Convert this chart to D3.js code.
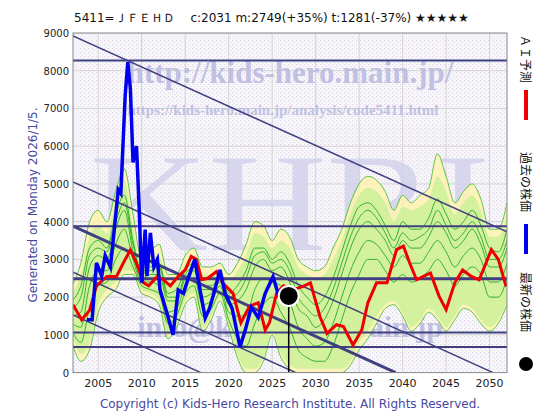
<!DOCTYPE html><html><head><meta charset="utf-8">
<script src="https://cdn.jsdelivr.net/npm/d3@7"></script>
<style>body{margin:0;background:#fff}</style></head><body>
<svg id="c" width="560" height="420" style="font-family:'DejaVu Sans',sans-serif"></svg>
<script>
const title="5411=ＪＦＥＨＤ　 c:2031  m:2749(+35%)  t:1281(-37%)  ★★★★★";
const yTicks=[0,1000,2000,3000,4000,5000,6000,7000,8000,9000];
const xTicks=[2005,2010,2015,2020,2025,2030,2035,2040,2045,2050];
const hLines=[8270,3880,2490,1060,680];
const hThick=[false,false,true,false,false];
const diagLines=[[2002.1,8920,2052,3730],[2002.1,5050,2050.4,0],[2002.1,3880,2039.2,0],[2002.1,2660,2027.7,0],[2002.1,1530,2016.8,0]];
const diagWidth=[1.5,1.5,3,1.5,1.5];
const blueYears=[2003.7,2004.3,2004.8,2005.4,2005.8,2006.4,2006.7,2007.3,2007.6,2008.1,2008.4,2008.7,2009.0,2009.4,2009.7,2010.0,2010.4,2010.6,2011.0,2011.4,2011.8,2012.1,2012.9,2013.6,2014.2,2014.8,2015.3,2016.1,2016.7,2017.3,2017.8,2018.4,2019.0,2019.6,2020.4,2021.3,2021.9,2022.6,2023.4,2024.2,2025.1,2025.8,2026.6];
const blueVals=[1400,1400,2910,2560,3100,2800,3450,4850,4750,7340,8230,7520,5570,6000,4400,2380,3790,2560,3700,2800,3000,2200,1580,1000,2190,2100,2460,3000,2200,1450,1700,2190,2720,2100,1700,680,1120,1730,1460,2100,2540,2000,1930];
const redYears=[2002.1,2003.1,2004.0,2004.8,2006.0,2007.1,2008.1,2008.7,2009.4,2010.2,2010.8,2011.8,2012.5,2013.3,2014.2,2015.0,2015.7,2016.3,2016.9,2017.6,2018.6,2019.3,2020.5,2021.4,2022.4,2023.4,2024.2,2024.7,2025.5,2026.3,2027.4,2028.5,2029.4,2030.5,2031.3,2032.4,2033.2,2034.3,2035.3,2036.0,2037.0,2038.2,2039.3,2040.1,2040.8,2041.6,2042.4,2043.2,2044.2,2045.0,2046.0,2046.9,2047.9,2048.8,2049.6,2050.2,2051.0,2051.9];
const redVals=[1800,1400,1650,2300,2550,2550,3000,3250,2900,2380,2300,2550,2460,2300,2550,2720,3080,3000,2460,2500,2680,2380,2100,1320,1760,1850,1130,1330,2100,2300,2200,2280,2380,1480,1040,1270,1220,730,1130,1850,2380,2380,3260,3350,2910,2460,2550,2640,2020,1670,2380,2720,2550,2460,2910,3260,3000,2280];
const latestYear=2026.9, latestVal=2031;
const bandYears=d3.range(2002,2053);
const yelUp=[2300,2900,4000,4300,4000,4800,5400,4200,3000,3200,3400,2600,2600,3100,3300,2800,2800,2900,2600,2900,3400,4000,3900,3500,3800,3600,3000,2800,2700,2800,3300,3800,4500,5000,5200,5100,4800,4300,4700,4500,4700,4900,5800,5200,4500,4800,5000,4600,3800,3800,4500];
const yelLo=[800,300,600,1600,2000,2200,2600,2600,2100,2000,1800,900,1200,1800,2000,1100,1400,1900,1200,400,0,0,300,1000,400,100,0,0,0,0,0,0,200,600,900,1300,1700,1800,1500,1100,1300,1600,1400,1100,1400,1700,1600,1300,1100,1300,1800];
const grnUp=[2100,2600,3600,3900,3700,4500,5100,3900,2800,3000,3100,2400,2400,2900,3100,2600,2600,2700,2400,2700,3100,3700,3600,3300,3500,3300,2800,2600,2500,2600,3000,3500,4200,4700,4900,4800,4500,4000,4400,4300,4400,4600,5200,4800,4200,4500,4700,4300,3600,3600,4200];
const grnLo=[1000,500,800,1800,2200,2400,2700,2700,2200,2100,1900,1000,1300,1900,2100,1200,1500,2000,1300,500,100,100,400,1100,500,200,100,100,100,100,100,100,300,800,1100,1500,1800,1900,1600,1200,1400,1700,1500,1200,1500,1800,1700,1400,1200,1400,1900];
const gLines=[
[1900,2300,3300,3500,3300,4200,4700,3500,2600,2800,2900,2100,2200,2700,2900,2300,2300,2500,2100,2300,2700,3300,3300,3000,3200,2900,2300,2000,1800,2000,2500,3200,3900,4400,4500,4300,3900,3500,4000,3800,3800,4100,4600,4200,3800,4000,4300,3900,3300,3200,3800],
[1500,1600,2800,3100,3000,3800,4300,3200,2500,2600,2600,1900,1900,2500,2700,2000,2100,2400,1800,1900,2200,2800,3000,2700,2800,2400,1700,1500,1200,1400,1900,2600,3300,3800,4000,3800,3500,3100,3500,3300,3300,3600,4000,3700,3300,3500,3800,3400,2800,2800,3300],
[1300,1200,2300,2700,2700,3400,3800,3000,2400,2400,2300,1600,1700,2300,2500,1800,1900,2300,1600,1500,1500,2200,2500,2400,2300,1900,1200,900,700,800,1300,2000,2700,3200,3500,3400,3100,2800,3100,2900,2900,3200,3500,3200,2800,3100,3300,3000,2400,2400,2900],
[1100,800,1700,2300,2400,3000,3300,2800,2300,2200,2100,1300,1500,2100,2300,1500,1700,2100,1400,900,700,1300,1800,2000,1600,1200,600,400,300,300,700,1400,2100,2600,3000,3000,2700,2400,2600,2400,2500,2700,3000,2700,2300,2600,2800,2600,2000,2000,2500],
[1700,2000,3100,3300,3200,4000,4500,3400,2700,2700,2800,2000,2000,2600,2800,2200,2200,2500,2000,2100,2500,3100,3200,2900,3000,2700,2000,1700,1500,1700,2200,2900,3600,4100,4300,4100,3700,3300,3700,3500,3600,3800,4300,3900,3500,3700,4000,3600,3000,3000,3500]];

const svg=d3.select("#c");
const L=73,R=507,T=33,B=372.6;
const x=d3.scaleLinear().domain([2002.1,2052]).range([L,R]);
const y=d3.scaleLinear().domain([0,9000]).range([B,T]);
const defs=svg.append("defs");
const pat=defs.append("pattern").attr("id","dots").attr("width",4).attr("height",4).attr("patternUnits","userSpaceOnUse");
pat.append("rect").attr("width",4).attr("height",4).attr("fill","#f8f6f9");
pat.append("rect").attr("x",0).attr("y",0).attr("width",1).attr("height",1).attr("fill","#e4d0e4");
pat.append("rect").attr("x",2).attr("y",2).attr("width",1).attr("height",1).attr("fill","#d0dcea");
defs.append("clipPath").attr("id","clip").append("rect").attr("x",L).attr("y",T).attr("width",R-L).attr("height",B-T);
svg.append("rect").attr("x",L).attr("y",T).attr("width",R-L).attr("height",B-T).attr("fill","url(#dots)");
const g=svg.append("g").attr("clip-path","url(#clip)");
g.selectAll(".vg").data(xTicks).join("line").attr("x1",d=>x(d)).attr("x2",d=>x(d)).attr("y1",T).attr("y2",B).attr("stroke","#d4d4d4");
g.selectAll(".hg").data(yTicks).join("line").attr("y1",d=>y(d)).attr("y2",d=>y(d)).attr("x1",L).attr("x2",R).attr("stroke","#d4d4d4");
const wm="#b8b8e0", serif="'Liberation Serif','DejaVu Serif',serif";
g.append("text").attr("x",290).attr("y",83).attr("text-anchor","middle").style("font-family",serif).attr("font-weight","bold").attr("font-size",31).attr("fill",wm).attr("opacity",0.85).text("http://kids-hero.main.jp/");
g.append("text").attr("x",283).attr("y",115).attr("text-anchor","middle").style("font-family",serif).attr("font-weight","bold").attr("font-size",15).attr("fill",wm).attr("opacity",0.85).text("https://kids-hero.main.jp/analysis/code5411.html");
g.append("text").attr("x",290).attr("y",250).attr("text-anchor","middle").style("font-family",serif).attr("font-size",140).attr("textLength",400).attr("lengthAdjust","spacingAndGlyphs").attr("fill","#d0d0ea").attr("opacity",0.8).text("KHRI");
g.append("text").attr("x",290).attr("y",337).attr("text-anchor","middle").style("font-family",serif).attr("font-weight","bold").attr("font-size",30).attr("fill",wm).attr("opacity",0.85).text("info@kids-hero.main.jp");
const area=(u,l)=>d3.area().x((d,i)=>x(bandYears[i])).y0((d,i)=>y(l[i])).y1((d,i)=>y(u[i])).curve(d3.curveMonotoneX);
g.append("path").datum(yelUp).attr("d",area(yelUp,yelLo)).attr("fill","#fff3b0").attr("opacity",0.85);
g.append("path").datum(grnUp).attr("d",area(grnUp,grnLo)).attr("fill","#b8f08a").attr("opacity",0.6);
const ln=d3.line().x((d,i)=>x(bandYears[i])).y(d=>y(d)).curve(d3.curveMonotoneX);
g.append("path").attr("d",ln(yelUp)).attr("fill","none").attr("stroke","#33bb22").attr("stroke-width",0.8);
g.append("path").attr("d",ln(yelLo)).attr("fill","none").attr("stroke","#33bb22").attr("stroke-width",0.8);
gLines.forEach(a=>g.append("path").attr("d",ln(a)).attr("fill","none").attr("stroke","#22aa22").attr("stroke-width",0.9));
hLines.forEach((v,i)=>g.append("line").attr("x1",L).attr("x2",R).attr("y1",y(v)).attr("y2",y(v)).attr("stroke","#404080").attr("stroke-width",hThick[i]?3:2));
diagLines.forEach((d,i)=>g.append("line").attr("x1",x(d[0])).attr("y1",y(d[1])).attr("x2",x(d[2])).attr("y2",y(d[3])).attr("stroke","#404080").attr("stroke-width",diagWidth[i]));
const pl=(xs)=>d3.line().x((d,i)=>x(xs[i])).y(d=>y(d));
g.append("path").attr("d",pl(redYears)(redVals)).attr("fill","none").attr("stroke","#ee0000").attr("stroke-width",3);
g.append("path").attr("d",pl(blueYears)(blueVals)).attr("fill","none").attr("stroke","#0000ee").attr("stroke-width",3.5);
g.append("line").attr("x1",x(latestYear)).attr("x2",x(latestYear)).attr("y1",y(latestVal)).attr("y2",B).attr("stroke","#000").attr("stroke-width",1.5);
g.append("circle").attr("cx",x(latestYear)).attr("cy",y(latestVal)).attr("r",10).attr("fill","#000").attr("stroke","#fff").attr("stroke-width",2);
svg.append("rect").attr("x",L).attr("y",T).attr("width",R-L).attr("height",B-T).attr("fill","none").attr("stroke","#888");
svg.selectAll(".yt").data(yTicks).join("text").attr("x",L-4).attr("y",d=>y(d)+4).attr("text-anchor","end").attr("font-size",10).attr("fill","#222").text(d=>d);
svg.selectAll(".xt").data(xTicks).join("text").attr("x",d=>x(d)).attr("y",B+14).attr("text-anchor","middle").attr("font-size",11).attr("fill","#222").text(d=>d);
svg.append("text").attr("x",74).attr("y",22).attr("font-size",12).attr("fill","#111").text(title);
svg.append("text").attr("transform","translate(37,205) rotate(-90)").attr("text-anchor","middle").attr("font-size",12).attr("fill","#4848a0").text("Generated on Monday 2026/1/5.");
svg.append("text").attr("x",290).attr("y",408).attr("text-anchor","middle").attr("font-size",12).attr("fill","#4848a0").text("Copyright (c) Kids-Hero Research Institute. All Rights Reserved.");
const jp="'Noto Sans CJK JP',sans-serif";
svg.append("text").attr("transform","translate(521,35) rotate(90)").style("font-family",jp).attr("font-size",12).attr("fill","#111").text("ＡＩ予測");
svg.append("rect").attr("x",524).attr("y",90).attr("width",4).attr("height",30).attr("fill","#ee0000");
svg.append("text").attr("transform","translate(521,152) rotate(90)").style("font-family",jp).attr("font-size",12).attr("fill","#111").text("過去の株価");
svg.append("rect").attr("x",524).attr("y",224).attr("width",4).attr("height",30).attr("fill","#0000ee");
svg.append("text").attr("transform","translate(521,272) rotate(90)").style("font-family",jp).attr("font-size",12).attr("fill","#111").text("最新の株価");
svg.append("circle").attr("cx",526).attr("cy",364).attr("r",7).attr("fill","#000");
</script></body></html>
